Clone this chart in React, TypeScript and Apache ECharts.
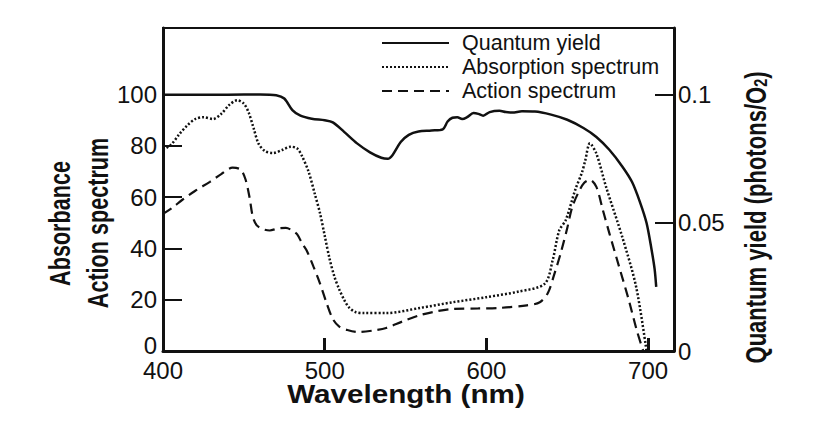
import React, { useEffect, useRef } from "react";
import * as echarts from "echarts";

// Wavelength (nm) / value pairs
const quantumYield: [number, number][] = [
  [400, 0.1], [420, 0.1], [440, 0.1], [460, 0.1001], [470, 0.0998], [475, 0.0985], [480, 0.094],
  [485, 0.0918], [492, 0.0906], [500, 0.09], [505, 0.0892], [512, 0.0855], [520, 0.081], [528, 0.0775],
  [535, 0.0754], [539, 0.075], [542, 0.0765], [547, 0.0815], [552, 0.0843], [558, 0.0856], [566, 0.086],
  [573, 0.0865], [576, 0.0895], [579, 0.091], [582, 0.0912], [585, 0.0905], [588, 0.0912], [592, 0.0928],
  [595, 0.0925], [598, 0.0918], [602, 0.0932], [608, 0.0937], [612, 0.0932], [616, 0.093], [622, 0.0935],
  [630, 0.0934], [640, 0.0922], [650, 0.0902], [660, 0.087], [668, 0.0835], [676, 0.0785], [684, 0.072],
  [690, 0.066], [695, 0.058], [699, 0.05], [702, 0.04], [704, 0.032], [705, 0.025],
];

const absorption: [number, number][] = [
  [400, 78.5], [405, 80.5], [410, 84.5], [415, 88], [420, 90.5], [425, 91.2], [431, 90.5], [436, 92.5],
  [441, 96], [446, 97.8], [450, 96.5], [453, 93], [456, 87], [459, 81], [463, 78], [468, 77.2],
  [474, 78.5], [479, 79.7], [483, 79], [486, 76], [490, 70], [494, 61], [497, 54], [500, 45],
  [503, 36], [506, 29], [509, 24], [512, 20], [515, 17], [519, 15.2], [524, 14.8], [538, 14.8],
  [559, 16.8], [579, 19], [600, 21], [620, 23.2], [636, 26.2], [641, 35.5], [645, 47], [649, 51],
  [655, 63], [659, 69.5], [661, 74], [664, 81], [668, 77], [674, 64], [684, 44.5], [692.6, 25], [699, 0],
];

const action: [number, number][] = [
  [400, 53.5], [406, 56], [412, 59], [420, 62.5], [429, 66], [436, 69], [443, 71.5], [448, 70.8],
  [451, 67], [453.5, 60], [455.5, 52.5], [458, 49], [462, 47.5], [466, 47], [471, 47.8], [476, 48],
  [480, 47], [483, 45.5], [486, 42], [489, 39], [493, 33], [497, 26.5], [501, 19], [505, 12.5],
  [509, 9.5], [514, 8.2], [521, 7.4], [530, 8], [538, 9], [548, 11.5], [559, 14], [570, 15.6],
  [579, 16.4], [595, 16.6], [608, 16.8], [625, 17.8], [633, 19], [638, 22.6], [642, 30], [646, 38.3],
  [650, 48], [653, 56], [657, 62], [660.5, 65.6], [664, 66.8], [668, 64], [672, 55], [676, 46],
  [682, 33], [688, 20], [693, 8], [697, 0],
];

const xTicks = [400, 500, 600, 700];
const leftTicks = [0, 20, 40, 60, 80, 100];
const rightTicks = [0, 0.05, 0.1];
const seriesNames = ["Quantum yield", "Absorption spectrum", "Action spectrum"];

const FONT = "Liberation Sans, Arial, Helvetica, sans-serif";
const INK = "#111";

export default function App() {
  const ref = useRef<HTMLDivElement>(null);
  useEffect(() => {
    if (!ref.current) return;
    const chart = echarts.init(ref.current, null, { renderer: "svg" });
    const tickLabel = { color: INK, fontSize: 24, fontFamily: FONT };
    chart.setOption({
      animation: false,
      backgroundColor: "#fff",
      grid: {
        left: 163, top: 28, right: 145, bottom: 72,
        show: true, borderColor: INK, borderWidth: 2, backgroundColor: "transparent",
      },
      legend: {
        left: 381, top: 32, orient: "vertical", padding: 0,
        itemWidth: 67, itemHeight: 14, itemGap: 2,
        selectedMode: false,
        data: seriesNames,
        itemStyle: { opacity: 0 },
        textStyle: { color: INK, fontSize: 21.5, fontFamily: FONT, lineHeight: 21, padding: [0, 0, 0, 8] },
      },
      xAxis: {
        type: "value", min: 400, max: 716,
        axisLine: { show: true, lineStyle: { color: INK, width: 3 } },
        axisTick: { show: true, inside: true, length: 13, customValues: xTicks, lineStyle: { color: INK, width: 3 } },
        axisLabel: { ...tickLabel, margin: 10, lineHeight: 18, customValues: xTicks },
        splitLine: { show: false },
      },
      yAxis: [
        {
          type: "value", min: 0, max: 126, position: "left",
          axisLine: { show: true, lineStyle: { color: INK, width: 3 } },
          axisTick: { show: true, inside: true, length: 19, customValues: leftTicks, lineStyle: { color: INK, width: 2 } },
          axisLabel: {
            ...tickLabel, margin: 6, lineHeight: 16, customValues: leftTicks,
            formatter: (v: number) => (v === 0 ? "{z|0}" : String(v)),
            rich: { z: { fontSize: 24, fontFamily: FONT, color: INK, lineHeight: 16, padding: [0, 0, 12, 0] } },
          },
          splitLine: { show: false },
        },
        {
          type: "value", min: 0, max: 0.126, position: "right",
          axisLine: { show: true, onZero: false, lineStyle: { color: INK, width: 3 } },
          axisTick: { show: true, inside: true, length: 19, customValues: rightTicks, lineStyle: { color: INK, width: 2 } },
          axisLabel: { ...tickLabel, margin: 4, lineHeight: 16, customValues: rightTicks, formatter: (v: number) => String(v) },
          splitLine: { show: false },
        },
      ],
      series: [
        {
          name: seriesNames[0], type: "line", yAxisIndex: 1, data: quantumYield,
          symbol: "none", smooth: 0.3,
          lineStyle: { color: INK, width: 2.5, type: "solid" },
          itemStyle: { color: INK },
        },
        {
          name: seriesNames[1], type: "line", yAxisIndex: 0, data: absorption,
          symbol: "none", smooth: 0.3,
          lineStyle: { color: INK, width: 2.5, type: [2, 2] },
          itemStyle: { color: INK },
        },
        {
          name: seriesNames[2], type: "line", yAxisIndex: 0, data: action,
          symbol: "none", smooth: 0.3,
          lineStyle: { color: INK, width: 2.2, type: [10, 6] },
          itemStyle: { color: INK },
        },
      ],
      graphic: [
        {
          type: "text", x: 406, y: 394, scaleX: 1.14,
          style: {
            text: "Wavelength (nm)", fill: INK, fontSize: 26, fontWeight: "bold", fontFamily: FONT,
            align: "center", verticalAlign: "middle", textAlign: "center", textVerticalAlign: "middle",
          },
        },
        {
          type: "text", x: 60, y: 223.5, rotation: Math.PI / 2, scaleX: 0.72,
          style: {
            text: "Absorbance", fill: INK, fontSize: 30, fontWeight: "bold", fontFamily: FONT,
            align: "center", verticalAlign: "middle", textAlign: "center", textVerticalAlign: "middle",
          },
        },
        {
          type: "text", x: 98, y: 223, rotation: Math.PI / 2, scaleX: 0.72,
          style: {
            text: "Action spectrum", fill: INK, fontSize: 30, fontWeight: "bold", fontFamily: FONT,
            align: "center", verticalAlign: "middle", textAlign: "center", textVerticalAlign: "middle",
          },
        },
        {
          type: "text", x: 756, y: 217.5, rotation: Math.PI / 2, scaleX: 0.76,
          style: {
            text: "Quantum yield (photons/O{sub|2})", fill: INK, fontSize: 29, fontWeight: "bold", fontFamily: FONT,
            align: "center", verticalAlign: "middle", textAlign: "center", textVerticalAlign: "middle",
            rich: {
              sub: { fontSize: 19, fontWeight: "bold", fontFamily: FONT, fill: INK, lineHeight: 12, verticalAlign: "bottom" },
            },
          },
        },
      ],
    });
    return () => chart.dispose();
  }, []);
  return (
    <div
      ref={ref}
      style={{ position: "absolute", left: 0, top: 0, width: 819, height: 423, background: "#fff" }}
    />
  );
}
